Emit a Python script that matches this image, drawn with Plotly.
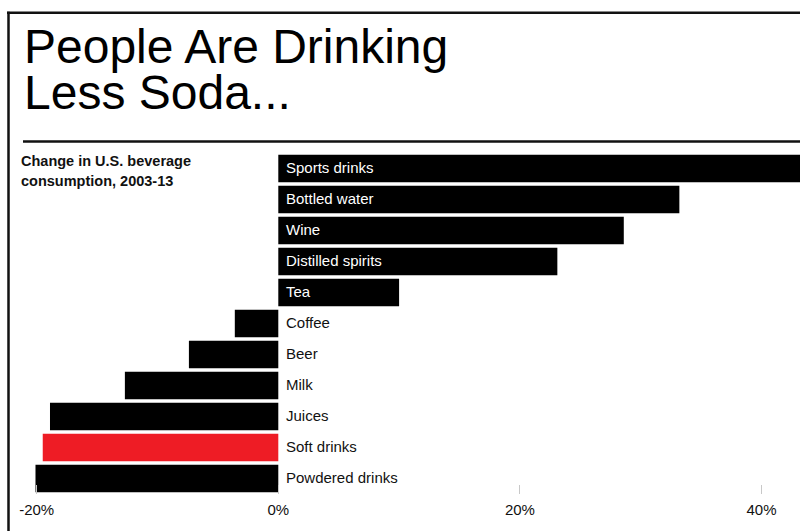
import plotly.graph_objects as go

categories = ["Sports drinks", "Bottled water", "Wine", "Distilled spirits", "Tea",
              "Coffee", "Beer", "Milk", "Juices", "Soft drinks", "Powdered drinks"]
values = [46.0, 33.2, 28.6, 23.1, 10.0, -3.6, -7.4, -12.7, -18.9, -19.5, -20.1]
highlight = "Soft drinks"
tick_vals = [-20, 0, 20, 40]
tick_text = ["-20%", "0%", "20%", "40%"]

W, H = 800, 531
L, R, T, B = 20, 0, 152.5, 37
PW = W - L - R
PH = H - T - B

def px_x(px):
    return (px - L) / PW

def px_y(py):
    return (H - B - py) / PH

bar_colors = ["#ee1c25" if c == highlight else "#000000" for c in categories]
label_colors = ["#ffffff" if v > 0 else "#111111" for v in values]

LFONT = "Liberation Sans, Arial, sans-serif"

fig = go.Figure()
fig.add_trace(go.Bar(
    y=categories, x=values, orientation="h",
    marker=dict(color=bar_colors, line=dict(width=0)),
    hoverinfo="skip",
))

annotations = [
    dict(x=0, y=cat, xref="x", yref="y", text=cat, showarrow=False,
         xanchor="left", yanchor="middle", xshift=6, yshift=1,
         font=dict(family=LFONT, size=15, color=col))
    for cat, col in zip(categories, label_colors)
]
annotations += [
    dict(text="People Are Drinking", xref="paper", yref="paper",
         x=px_x(22), y=px_y(46), xanchor="left", yanchor="middle",
         showarrow=False, font=dict(family=LFONT, size=48, color="#000000")),
    dict(text="Less Soda...", xref="paper", yref="paper",
         x=px_x(22), y=px_y(92), xanchor="left", yanchor="middle",
         showarrow=False, font=dict(family=LFONT, size=48, color="#000000")),
    dict(text="<b>Change in U.S. beverage</b>",
         xref="paper", yref="paper", x=px_x(19), y=px_y(161),
         xanchor="left", yanchor="middle", showarrow=False,
         font=dict(family=LFONT, size=14.5, color="#111111")),
    dict(text="<b>consumption, 2003-13</b>",
         xref="paper", yref="paper", x=px_x(19), y=px_y(181),
         xanchor="left", yanchor="middle", showarrow=False,
         font=dict(family=LFONT, size=14.5, color="#111111")),
]

fig.update_layout(
    width=W, height=H,
    margin=dict(l=L, r=R, t=T, b=B, pad=0),
    paper_bgcolor="white", plot_bgcolor="white",
    showlegend=False, bargap=0.12,
    xaxis=dict(
        range=[(L - 278.3) / 12.08, (W - R - 278.3) / 12.08],
        tickvals=tick_vals, ticktext=tick_text,
        ticks="inside", ticklen=9, tickcolor="#c8c8c8", tickwidth=1,
        showgrid=False, zeroline=False, showline=False,
        tickfont=dict(family=LFONT, size=15, color="#111111"),
        ticklabelstandoff=5, fixedrange=True,
    ),
    yaxis=dict(
        categoryorder="array", categoryarray=categories[::-1],
        range=[-0.5, len(categories) - 0.5],
        showticklabels=False, showgrid=False, zeroline=False, showline=False,
        ticks="", fixedrange=True,
    ),
    shapes=[
        dict(type="line", xref="paper", yref="paper", x0=px_x(7), x1=px_x(800),
             y0=px_y(12), y1=px_y(12), line=dict(color="#111111", width=2.5)),
        dict(type="line", xref="paper", yref="paper", x0=px_x(8.5), x1=px_x(8.5),
             y0=px_y(11), y1=px_y(531), line=dict(color="#111111", width=2.5)),
        dict(type="line", xref="paper", yref="paper", x0=px_x(23), x1=px_x(800),
             y0=px_y(141), y1=px_y(141), line=dict(color="#111111", width=2.5)),
    ],
    annotations=annotations,
)

fig.write_html("out.html")
